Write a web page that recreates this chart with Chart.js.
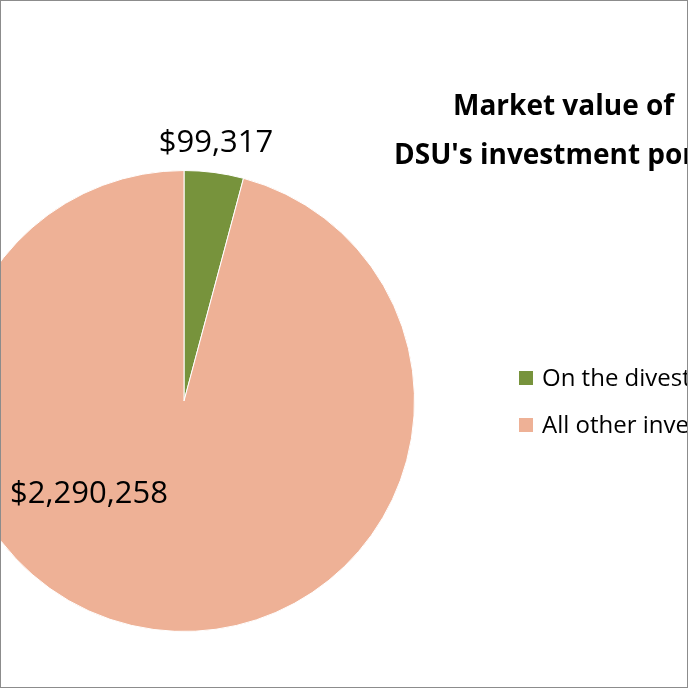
<!DOCTYPE html>
<html>
<head>
<meta charset="utf-8">
<script src="https://cdn.jsdelivr.net/npm/chart.js@4"></script>
<style>
  body { margin: 0; background: #fff; }
  #wrap { position: relative; width: 686px; height: 686px; overflow: hidden; border: 1px solid #8c8c8c; font-family: "Open Sans", "Liberation Sans", sans-serif; }
  #box { position: absolute; left: -100px; top: 0; width: 900px; height: 686px; }
  .title { position: absolute; font-weight: bold; font-size: 28px; white-space: nowrap; color: #000; }
  .leg { position: absolute; font-size: 24px; white-space: nowrap; color: #000; }
  .leg span { display: inline-block; width: 14px; height: 14px; margin-right: 9px; vertical-align: 1px; }
</style>
</head>
<body>
<div id="wrap">
  <div id="box"><canvas id="myChart" width="900" height="686"></canvas></div>
  <div class="title" style="left:452px;top:84px">Market value of</div>
  <div class="title" style="left:393px;top:133px">DSU's investment portfolio</div>
  <div id="legend"></div>
</div>
<script>
// data
const labels = ['On the divestment list', 'All other investments'];
const values = [99317, 2290258];
const colors = ['#77933C', '#EEB196'];
const valueLabels = ['$99,317', '$2,290,258'];

// legend
const legend = document.getElementById('legend');
labels.forEach(function (l, i) {
  const d = document.createElement('div');
  d.className = 'leg';
  d.style.left = '518px';
  d.style.top = (359 + i * 47) + 'px';
  d.innerHTML = '<span style="background:' + colors[i] + '"></span>' + l;
  legend.appendChild(d);
});

// value labels, placed relative to the pie
const valueLabelPlugin = {
  id: 'valueLabels',
  afterDatasetsDraw(chart) {
    const ctx = chart.ctx;
    const arcs = chart.getDatasetMeta(0).data;
    const cx = arcs[0].x, cy = arcs[0].y, r = arcs[0].outerRadius;
    ctx.save();
    ctx.font = '31px "Open Sans", sans-serif';
    ctx.fillStyle = '#000';
    ctx.textAlign = 'center';
    ctx.textBaseline = 'middle';
    ctx.fillText(valueLabels[0], cx + 32, cy - r - 27);
    ctx.fillText(valueLabels[1], cx - 95, cy + 93);
    ctx.restore();
  }
};

const myChart = new Chart(document.getElementById('myChart'), {
  type: 'pie',
  data: {
    labels: labels,
    datasets: [{
      data: values,
      backgroundColor: colors,
      borderColor: '#fff',
      borderWidth: 1
    }]
  },
  options: {
    responsive: false,
    animation: false,
    layout: { padding: { left: 52, right: 386, top: 169, bottom: 55 } },
    plugins: { legend: { display: false }, tooltip: { enabled: false } }
  },
  plugins: [valueLabelPlugin]
});
</script>
</body>
</html>
